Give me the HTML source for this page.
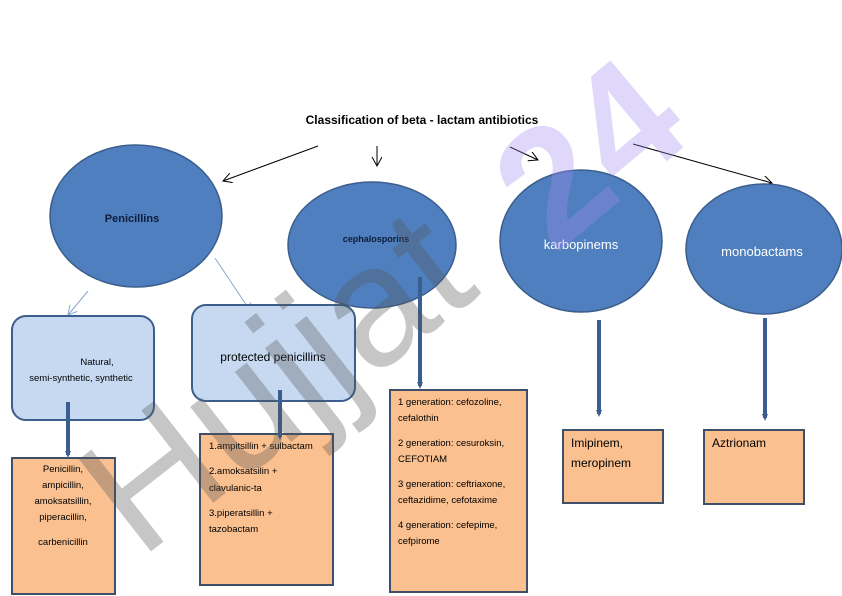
<!DOCTYPE html>
<html><head><meta charset="utf-8"><style>
html,body{margin:0;padding:0;background:#fff;width:842px;height:596px;overflow:hidden}
svg{display:block}
text{font-family:"Liberation Sans",sans-serif}
</style></head><body>
<svg width="842" height="596" viewBox="0 0 842 596" xmlns="http://www.w3.org/2000/svg">
<defs>
<marker id="oa" markerWidth="12" markerHeight="12" refX="10" refY="5" orient="auto" markerUnits="userSpaceOnUse"><path d="M1,0 L10,5 L1,10" fill="none" stroke="#000" stroke-width="1"/></marker>
<marker id="la" markerWidth="12" markerHeight="12" refX="10" refY="5" orient="auto" markerUnits="userSpaceOnUse"><path d="M1,0 L10,5 L1,10" fill="none" stroke="#8aa6cc" stroke-width="1"/></marker>
<marker id="ta" markerWidth="8" markerHeight="8" refX="4" refY="4" orient="auto" markerUnits="userSpaceOnUse"><path d="M0,1 L7,4 L0,7 Z" fill="#3a5f8f"/></marker>
</defs>
<rect width="842" height="596" fill="#fff"/>

<text x="422" y="124" text-anchor="middle" font-size="12" font-weight="bold" fill="#000">Classification of beta - lactam antibiotics</text>

<line x1="318" y1="146" x2="223" y2="181" stroke="#000" stroke-width="1" marker-end="url(#oa)"/>
<line x1="377" y1="146" x2="377" y2="166" stroke="#000" stroke-width="1" marker-end="url(#oa)"/>
<line x1="510" y1="147" x2="538" y2="160" stroke="#000" stroke-width="1" marker-end="url(#oa)"/>
<line x1="633" y1="144" x2="772" y2="183" stroke="#000" stroke-width="1" marker-end="url(#oa)"/>

<g fill="#4f7fbe" stroke="#3b5e8c" stroke-width="1.5">
<ellipse cx="136" cy="216" rx="86" ry="71"/>
<ellipse cx="372" cy="245" rx="84" ry="63"/>
<ellipse cx="581" cy="241" rx="81" ry="71"/>
<ellipse cx="764" cy="249" rx="78" ry="65"/>
</g>
<text x="132" y="222" text-anchor="middle" font-size="11" font-weight="bold" fill="#0d1d3a">Penicillins</text>
<text x="376" y="242" text-anchor="middle" font-size="9" font-weight="bold" fill="#0d1d3a">cephalosporins</text>
<text x="581" y="249" text-anchor="middle" font-size="13" fill="#fff">karbopinems</text>
<text x="762" y="256" text-anchor="middle" font-size="13" fill="#fff">monobactams</text>

<line x1="88" y1="291" x2="68" y2="315" stroke="#8aa6cc" stroke-width="1" marker-end="url(#la)"/>
<line x1="215" y1="258" x2="251" y2="312" stroke="#8aa6cc" stroke-width="1" marker-end="url(#la)"/>

<rect x="12" y="316" width="142" height="104" rx="14" fill="#c6d9f1" stroke="#3b5e8c" stroke-width="2"/>
<rect x="192" y="305" width="163" height="96" rx="14" fill="#c6d9f1" stroke="#3b5e8c" stroke-width="2"/>
<text font-size="9.5" fill="#000" text-anchor="middle"><tspan x="97" y="365">Natural,</tspan><tspan x="81" y="381">semi-synthetic, synthetic</tspan></text>
<text x="273" y="361" text-anchor="middle" font-size="12" fill="#000">protected penicillins</text>

<g fill="#fac090" stroke="#3f4e69" stroke-width="2">
<rect x="12" y="458" width="103" height="136"/>
<rect x="200" y="434" width="133" height="151"/>
<rect x="390" y="390" width="137" height="202"/>
<rect x="563" y="430" width="100" height="73"/>
<rect x="704" y="430" width="100" height="74"/>
</g>

<g stroke="#3a5f8f" stroke-width="4" marker-end="url(#ta)">
<line x1="68" y1="402" x2="68" y2="455"/>
<line x1="280" y1="390" x2="280" y2="437"/>
<line x1="420" y1="277" x2="420" y2="386"/>
<line x1="599" y1="320" x2="599" y2="414"/>
<line x1="765" y1="318" x2="765" y2="418"/>
</g>

<g font-size="9.5" fill="#000">
<text text-anchor="middle"><tspan x="63" y="472">Penicillin,</tspan><tspan x="63" y="488">ampicillin,</tspan><tspan x="63" y="504">amoksatsillin,</tspan><tspan x="63" y="520">piperacillin,</tspan><tspan x="63" y="545">carbenicillin</tspan></text>
<text><tspan x="209" y="449">1.ampitsillin + sulbactam</tspan><tspan x="209" y="474">2.amoksatsilin +</tspan><tspan x="209" y="491">clavulanic-ta</tspan><tspan x="209" y="516">3.piperatsillin +</tspan><tspan x="209" y="532">tazobactam</tspan></text>
<text><tspan x="398" y="405">1 generation: cefozoline,</tspan><tspan x="398" y="421">cefalothin</tspan><tspan x="398" y="446">2 generation: cesuroksin,</tspan><tspan x="398" y="462">CEFOTIAM</tspan><tspan x="398" y="487">3 generation: ceftriaxone,</tspan><tspan x="398" y="503">ceftazidime, cefotaxime</tspan><tspan x="398" y="528">4 generation: cefepime,</tspan><tspan x="398" y="544">cefpirome</tspan></text>
</g>
<text font-size="12" fill="#000"><tspan x="571" y="447">Imipinem,</tspan><tspan x="571" y="467">meropinem</tspan></text>
<text x="712" y="447" font-size="12" fill="#000">Aztrionam</text>

<g opacity="0.33">
<text x="140" y="560" font-size="170" fill="#555" font-family="Liberation Sans,sans-serif" transform="rotate(-38 140 560)">Hujjat</text>
</g>
<g opacity="0.33">
<text x="555" y="255" font-size="165" font-weight="bold" fill="#a48cf0" font-family="Liberation Sans,sans-serif" transform="rotate(-40 555 255)">24</text>
</g>
</svg>
</body></html>
